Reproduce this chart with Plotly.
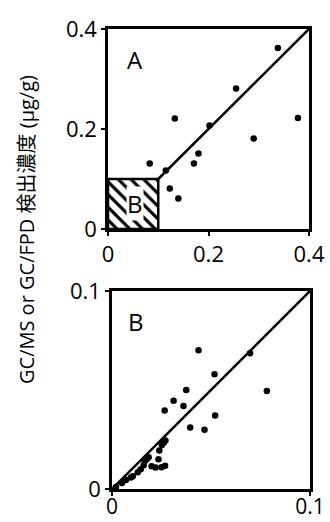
import plotly.graph_objects as go

# Panel A data (µg/g)
a_x = [0.083, 0.115, 0.133, 0.123, 0.140, 0.171, 0.180, 0.202, 0.255, 0.290, 0.338, 0.378]
a_y = [0.131, 0.117, 0.221, 0.081, 0.061, 0.131, 0.151, 0.207, 0.281, 0.181, 0.362, 0.222]

# Panel B data (µg/g)
b_x = [0.0437, 0.0697, 0.0518, 0.0375, 0.0782, 0.0311, 0.0361, 0.0266, 0.0521, 0.0395, 0.0467,
       0.0270, 0.0262, 0.0252, 0.0239, 0.0235, 0.0268, 0.0250, 0.0220, 0.0200, 0.0185, 0.0175,
       0.0165, 0.0160, 0.0145, 0.0130, 0.0105, 0.0095, 0.0070, 0.0050, 0.0020]
b_y = [0.0701, 0.0685, 0.0579, 0.0500, 0.0495, 0.0446, 0.0419, 0.0396, 0.0371, 0.0310, 0.0299,
       0.0245, 0.0235, 0.0222, 0.0195, 0.0150, 0.0118, 0.0110, 0.0108, 0.0115, 0.0160, 0.0150,
       0.0140, 0.0120, 0.0100, 0.0085, 0.0065, 0.0058, 0.0045, 0.0030, 0.0010]

a_ticks = [0, 0.2, 0.4]
a_ticklabels = ["0", "0.2", "0.4"]
b_ticks = [0, 0.1]
b_ticklabels = ["0", "0.1"]

a_line = [0.1, 0.4]
b_line = [0.0, 0.1]
box_b = [0.0, 0.1]

W, H = 330, 522
FONT = "Open Sans, Noto Sans CJK JP"

fig = go.Figure()

# hatched box B in panel A
fig.add_trace(go.Scatter(
    x=[box_b[0], box_b[1], box_b[1], box_b[0], box_b[0]],
    y=[box_b[0], box_b[0], box_b[1], box_b[1], box_b[0]],
    mode="lines", fill="toself", fillcolor="white",
    fillpattern=dict(shape="\\", size=9, solidity=0.35, fgcolor="black",
                     fgopacity=1, bgcolor="white"),
    line=dict(color="black", width=2.5), xaxis="x", yaxis="y", hoverinfo="skip"))

fig.add_trace(go.Scatter(x=a_line, y=a_line, mode="lines",
                         line=dict(color="black", width=2.5), xaxis="x", yaxis="y"))
fig.add_trace(go.Scatter(x=a_x, y=a_y, mode="markers",
                         marker=dict(color="black", size=6.5), xaxis="x", yaxis="y"))

fig.add_trace(go.Scatter(x=b_line, y=b_line, mode="lines",
                         line=dict(color="black", width=2.5), xaxis="x2", yaxis="y2"))
fig.add_trace(go.Scatter(x=b_x, y=b_y, mode="markers",
                         marker=dict(color="black", size=6.5), xaxis="x2", yaxis="y2"))

ax_common = dict(showline=True, mirror=True, linecolor="black", linewidth=2.5,
                 showgrid=False, zeroline=False, ticks="outside", ticklen=4,
                 tickwidth=2, tickcolor="black", automargin=False)

tf = dict(family=FONT, size=22, color="black")

fig.update_layout(
    width=W, height=H, margin=dict(l=0, r=0, t=0, b=0),
    paper_bgcolor="white", plot_bgcolor="white", showlegend=False,
    xaxis=dict(domain=[108 / W, 309 / W], range=[0, 0.4], tickvals=a_ticks,
               ticktext=a_ticklabels, anchor="y", tickfont=tf, **ax_common),
    yaxis=dict(domain=[1 - 229 / H, 1 - 29 / H], range=[0, 0.4], tickvals=a_ticks,
               ticktext=a_ticklabels, anchor="x", tickfont=tf, **ax_common),
    xaxis2=dict(domain=[112 / W, 310 / W], range=[0, 0.1], tickvals=b_ticks,
                ticktext=b_ticklabels, anchor="y2", ticklabelstandoff=-7,
                tickfont=dict(family=FONT, size=21, color="black"), **ax_common),
    yaxis2=dict(domain=[1 - 489 / H, 1 - 291 / H], range=[0, 0.1], tickvals=b_ticks,
                ticktext=b_ticklabels, anchor="x2", tickfont=tf, **ax_common),
)

fig.add_annotation(x=0.053, y=0.339, xref="x", yref="y", text="A", showarrow=False,
                   font=dict(family=FONT, size=24, color="black"))
fig.add_annotation(x=0.054, y=0.052, xref="x", yref="y", text="B", showarrow=False,
                   font=dict(family=FONT, size=24, color="black"), bgcolor="white",
                   borderpad=0)
fig.add_annotation(x=0.0123, y=0.0844, xref="x2", yref="y2", text="B", showarrow=False,
                   font=dict(family=FONT, size=24, color="black"))

fig.add_annotation(x=27 / W, y=1 - 230 / H, xref="paper", yref="paper",
                   xanchor="center", yanchor="middle",
                   text="GC/MS or GC/FPD 検出濃度 (µg/g)", textangle=-90, showarrow=False,
                   font=dict(family=FONT, size=20, color="black"))

fig.write_html("out.html")
